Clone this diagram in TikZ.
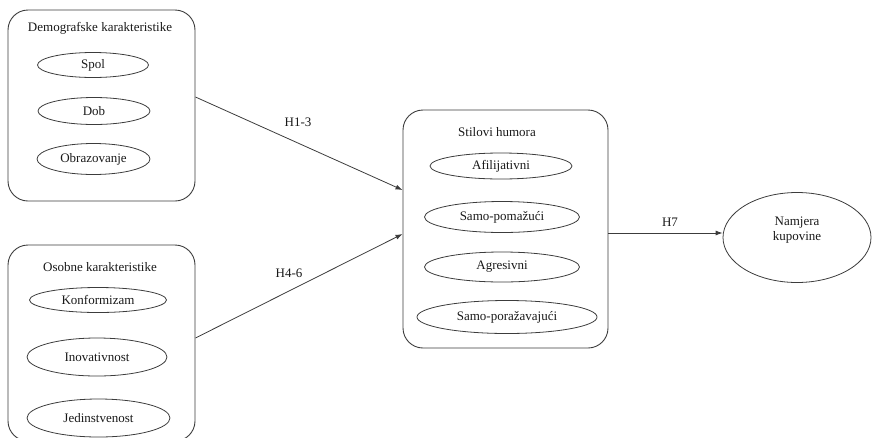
\documentclass[tikz,border=0pt]{standalone}
\usepackage{fontspec}
\setmainfont{Liberation Serif}
\usetikzlibrary{shapes.geometric,arrows.meta}
\definecolor{linecol}{RGB}{60,60,60}
\definecolor{txtcol}{RGB}{25,25,25}
\tikzset{
  grp/.style={draw=linecol,line width=0.9pt,rounded corners=20pt,inner sep=0pt},
  ell/.style={draw=linecol,line width=0.8pt,ellipse,inner sep=0pt,text=txtcol,font=\fontsize{13}{15}\selectfont},
  ttl/.style={text=txtcol,font=\fontsize{13}{15}\selectfont,inner sep=0pt},
  arr/.style={draw=linecol,line width=0.8pt,-{Latex[length=7pt,width=5pt]}},
}
\begin{document}
\begin{tikzpicture}[x=1pt,y=-1pt]
\useasboundingbox (0,0) rectangle (875,437);
\clip (0,0) rectangle (875,437);
% groups
\node[grp,minimum width=187pt,minimum height=191pt] (box1) at (101.5,105.5) {};
\node[grp,minimum width=187pt,minimum height=196pt] (box2) at (101.5,343) {};
\node[grp,minimum width=205pt,minimum height=238pt] (box3) at (505.5,229) {};
% titles
\node[ttl] (t1) at (100,28) {Demografske karakteristike};
\node[ttl] (t2) at (100,267) {Osobne karakteristike};
\node[ttl] (t3) at (497,132) {Stilovi humora};
% ellipses box1
\node[ell,minimum width=111pt,minimum height=25pt] (spol) at (93,65) {Spol};
\node[ell,minimum width=112pt,minimum height=27pt] (dob) at (94,111) {Dob};
\node[ell,minimum width=113pt,minimum height=31pt] (obr) at (93.5,159) {Obrazovanje};
% ellipses box2
\node[ell,minimum width=137pt,minimum height=25pt] (konf) at (98,300) {Konformizam};
\node[ell,minimum width=140pt,minimum height=38pt] (inov) at (97,357) {Inovativnost};
\node[ell,minimum width=143pt,minimum height=38pt] (jed) at (98.5,418) {Jedinstvenost};
% ellipses box3
\node[ell,minimum width=142pt,minimum height=26pt] (afi) at (501,166) {Afilijativni};
\node[ell,minimum width=155pt,minimum height=31pt] (pom) at (502,217) {Samo-pomažući};
\node[ell,minimum width=155pt,minimum height=30pt] (agr) at (502,267) {Agresivni};
\node[ell,minimum width=180pt,minimum height=33pt] (por) at (507,317) {Samo-poražavajući};
% outcome
\node[ell,minimum width=148pt,minimum height=90pt] (nam) at (797,237.5) {};
\node[ttl,align=center] (namtxt) at ([yshift=7pt]nam.center) {Namjera\\kupovine};
% connectors
\draw[arr] ([yshift=8.5pt]box1.east) -- ([yshift=39pt]box3.west);
\draw[arr] ([yshift=5pt]box2.east) -- ([yshift=-5pt]box3.west);
\draw[arr] ([yshift=-4pt]box3.east) -- ([yshift=4.5pt]nam.west);
% labels
\node[ttl] (h13) at (298,122) {H1-3};
\node[ttl] (h46) at (289,273) {H4-6};
\node[ttl] (h7) at (670,222) {H7};
\end{tikzpicture}
\end{document}
